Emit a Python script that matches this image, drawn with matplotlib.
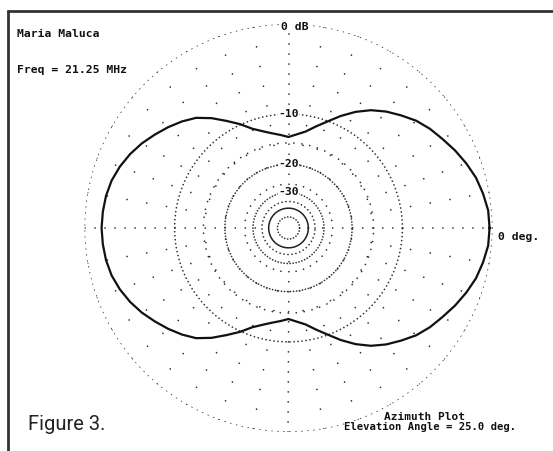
import numpy as np
import matplotlib
matplotlib.use("Agg")
import matplotlib.pyplot as plt
from matplotlib.lines import Line2D

# azimuth pattern, upper half (0..180 deg), mirrored below
az_half = list(range(0, 181, 5))
gain_half = [-0.25, -0.3, -0.55, -0.85, -1.3, -1.8, -2.35, -2.85, -3.45, -4.25,
             -5.05, -6.0, -7.2, -8.6, -10.1, -11.4, -12.6, -13.3, -13.85,
             -13.4, -12.9, -12.2, -11.3, -9.9, -8.6, -7.2, -6.0, -5.2, -4.5,
             -3.85, -3.2, -2.65, -2.2, -1.85, -1.65, -1.55, -1.5]

az_deg = az_half + [360 - a for a in az_half[-2::-1]]
gain_db = gain_half + gain_half[-2::-1]

# grid rings (dB) and spokes (deg)
ring_db = [0, -10, -15, -20, -30, -35, -40, -50]
ring_gap_px = [6, 4, 8, 3, 3, 4, 0, 3]   # 0 = solid
spoke_deg = list(range(0, 360, 10))

ring_labels = ["-10", "-20", "-30"]
ring_label_db = [-10, -20, -30]


def arrl(db):
    # ARRL log scale: 2 dB down = 0.89 of radius
    return 0.89 ** (-np.asarray(db, dtype=float) / 2.0)


def dots(gap_px, lw):
    return (0, (0.01, gap_px * 72.0 / 100.0 / lw))


W, H = 553, 451
fig = plt.figure(figsize=(W / 100, H / 100), dpi=100)
fig.patch.set_facecolor("white")

cx, cy, R = 288.5, 228, 204
ax = fig.add_axes([(cx - R) / W, (H - cy - R) / H, 2 * R / W, 2 * R / H],
                  projection="polar")
ax.set_ylim(0, 1)
ax.grid(False)
ax.set_xticks([])
ax.set_yticks([])
ax.spines["polar"].set_visible(False)
ax.patch.set_alpha(0)

grid_col = "#2e2e2e"
lw = 1.25
th = np.linspace(0, 2 * np.pi, 1441)
for db, gap in zip(ring_db, ring_gap_px):
    r = np.full_like(th, arrl(db))
    if gap == 0:
        ax.plot(th, r, color="#222222", lw=1.1)
    else:
        ax.plot(th, r, color=grid_col, lw=lw, linestyle=dots(gap, lw),
                dash_capstyle="round")

for a in spoke_deg:
    t = np.deg2rad(a)
    gap = 10 if a % 90 == 0 else 20
    # drawn from the rim inwards so the dots line up across spokes
    ax.plot([t, t], [1.0, arrl(-35)], color=grid_col, lw=lw,
            linestyle=dots(gap, lw), dash_capstyle="round")

ax.plot(np.deg2rad(az_deg), arrl(gain_db), color="#111111", lw=1.6)


def fx(x):
    return x / W


def fy(y):
    return 1 - y / H


mono = dict(family="DejaVu Sans Mono", weight="bold", color="#111111")
fig.text(fx(17), fy(37), "Maria Maluca", ha="left", va="baseline", size=8.2, **mono)
fig.text(fx(17), fy(73), "Freq = 21.25 MHz", ha="left", va="baseline", size=8.2, **mono)
fig.text(fx(281), fy(30), "0 dB", ha="left", va="baseline", size=8.2, **mono,
         bbox=dict(facecolor="white", edgecolor="none", pad=0.5))
for lab, db in zip(ring_labels, ring_label_db):
    ax.text(np.pi / 2, arrl(db), lab, ha="center", va="center", size=8.2, **mono,
            bbox=dict(facecolor="white", edgecolor="none", pad=0.3))
fig.text(fx(498), fy(240), "0 deg.", ha="left", va="baseline", size=8.2, **mono)
fig.text(fx(424), fy(420), "Azimuth Plot", ha="center", va="baseline", size=8.0, **mono)
fig.text(fx(430), fy(430), "Elevation Angle = 25.0 deg.", ha="center",
         va="baseline", size=7.6, **mono)
fig.text(fx(28), fy(430), "Figure 3.", ha="left", va="baseline", size=14.5,
         family="Roboto", color="#222222")

# page frame
fig.add_artist(Line2D([fx(7), 1.0], [fy(10.5), fy(10.5)], color="#333333", lw=2,
                      solid_capstyle="butt"))
fig.add_artist(Line2D([fx(8.2), fx(8.2)], [fy(10), 0.0], color="#333333", lw=2,
                      solid_capstyle="butt"))

fig.savefig("out.png", dpi=100)
